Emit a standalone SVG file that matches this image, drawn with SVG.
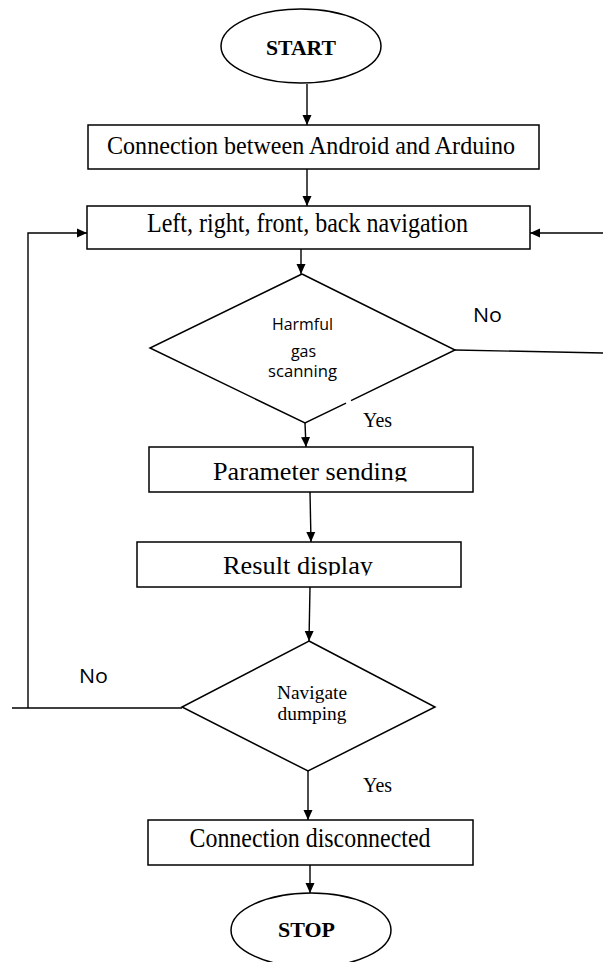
<svg xmlns="http://www.w3.org/2000/svg" width="603" height="962" viewBox="0 0 603 962">
<style>
.shape{fill:#fff;stroke:#000;stroke-width:1.5}
.edge{fill:none;stroke:#000;stroke-width:1.4}
.serif{font-family:"Liberation Serif","Times New Roman",serif;fill:#000}
.sans{font-family:"Open Sans","Liberation Sans",sans-serif;fill:#000}
.bold{font-weight:bold}
</style>
<defs>
<marker id="arr" markerUnits="userSpaceOnUse" markerWidth="10" markerHeight="10" refX="10" refY="5" orient="auto">
<path d="M0,0.5 L10,5 L0,9.5 z" fill="#000"/>
</marker>
<clipPath id="clip3"><rect x="140" y="440" width="340" height="41.5"/></clipPath>
<clipPath id="clip4"><rect x="130" y="535" width="340" height="40.5"/></clipPath>
</defs>
<rect width="603" height="962" fill="#fff"/>
<g id="connectors">
<path class="edge" d="M307,84 L307,125" marker-end="url(#arr)"/>
<path class="edge" d="M307,169 L307,206" marker-end="url(#arr)"/>
<path class="edge" d="M301,249 L301,274" marker-end="url(#arr)"/>
<path class="edge" d="M305,423 L306,447" marker-end="url(#arr)"/>
<path class="edge" d="M310,492 L311,542" marker-end="url(#arr)"/>
<path class="edge" d="M310,587 L309,641" marker-end="url(#arr)"/>
<path class="edge" d="M308,771 L308,820" marker-end="url(#arr)"/>
<path class="edge" d="M310,865 L310,893" marker-end="url(#arr)"/>
<path class="edge" d="M182,708 L12,708"/>
<path class="edge" d="M28,708 L28,233 L87,233" marker-end="url(#arr)"/>
<path class="edge" d="M455,350 L603,353"/>
<path class="edge" d="M603,233 L530,233" marker-end="url(#arr)"/>
<text class="sans" x="473" y="322" font-size="20" textLength="29" lengthAdjust="spacingAndGlyphs">No</text>
<text class="serif" x="363" y="427" font-size="20" textLength="29" lengthAdjust="spacingAndGlyphs">Yes</text>
<text class="sans" x="79" y="683" font-size="20" textLength="29" lengthAdjust="spacingAndGlyphs">No</text>
<text class="serif" x="363" y="792" font-size="20" textLength="29" lengthAdjust="spacingAndGlyphs">Yes</text>
</g>
<g id="start">
<ellipse class="shape" cx="301" cy="46" rx="80" ry="37"/>
<text class="serif bold" x="301" y="55" font-size="21" text-anchor="middle" textLength="70" lengthAdjust="spacingAndGlyphs">START</text>
</g>
<g id="connect">
<rect class="shape" x="88" y="125" width="451" height="44"/>
<text class="serif" x="311" y="154" font-size="26" text-anchor="middle" textLength="408" lengthAdjust="spacingAndGlyphs">Connection between Android and Arduino</text>
</g>
<g id="navigation">
<rect class="shape" x="87" y="206" width="443" height="43"/>
<text class="serif" x="307.5" y="232" font-size="27" text-anchor="middle" textLength="321" lengthAdjust="spacingAndGlyphs">Left, right, front, back navigation</text>
</g>
<g id="gas-scan">
<path class="shape" d="M302,274 L455,350 L351,400.6 M346,403.1 L305,423 L150,348 L302,274" stroke-linejoin="miter"/>
<text class="sans" x="302.5" y="330" font-size="16" text-anchor="middle" textLength="61" lengthAdjust="spacingAndGlyphs">Harmful</text>
<text class="sans" x="303.5" y="357" font-size="16" text-anchor="middle">gas</text>
<text class="sans" x="302.5" y="377" font-size="16" text-anchor="middle" textLength="69" lengthAdjust="spacingAndGlyphs">scanning</text>
</g>
<g id="parameter">
<rect class="shape" x="149" y="447" width="324" height="45"/>
<text class="serif" x="310" y="480" font-size="26" text-anchor="middle" textLength="194" lengthAdjust="spacingAndGlyphs" clip-path="url(#clip3)">Parameter sending</text>
</g>
<g id="result">
<rect class="shape" x="137" y="542" width="324" height="45"/>
<text class="serif" x="298" y="574" font-size="26" text-anchor="middle" textLength="150" lengthAdjust="spacingAndGlyphs" clip-path="url(#clip4)">Result display</text>
</g>
<g id="navigate-dumping">
<path class="shape" d="M309,641 L435,707 L308,771 L182,707 Z"/>
<text class="serif" x="312" y="699" font-size="19" text-anchor="middle" textLength="70" lengthAdjust="spacingAndGlyphs">Navigate</text>
<text class="serif" x="312" y="720" font-size="19" text-anchor="middle" textLength="69" lengthAdjust="spacingAndGlyphs">dumping</text>
</g>
<g id="disconnect">
<rect class="shape" x="148" y="820" width="325" height="45"/>
<text class="serif" x="310" y="847" font-size="28" text-anchor="middle" textLength="241" lengthAdjust="spacingAndGlyphs">Connection disconnected</text>
</g>
<g id="stop">
<ellipse class="shape" cx="311" cy="930" rx="80" ry="37"/>
<text class="serif bold" x="306.5" y="937" font-size="21" text-anchor="middle" textLength="57" lengthAdjust="spacingAndGlyphs">STOP</text>
</g>
</svg>
